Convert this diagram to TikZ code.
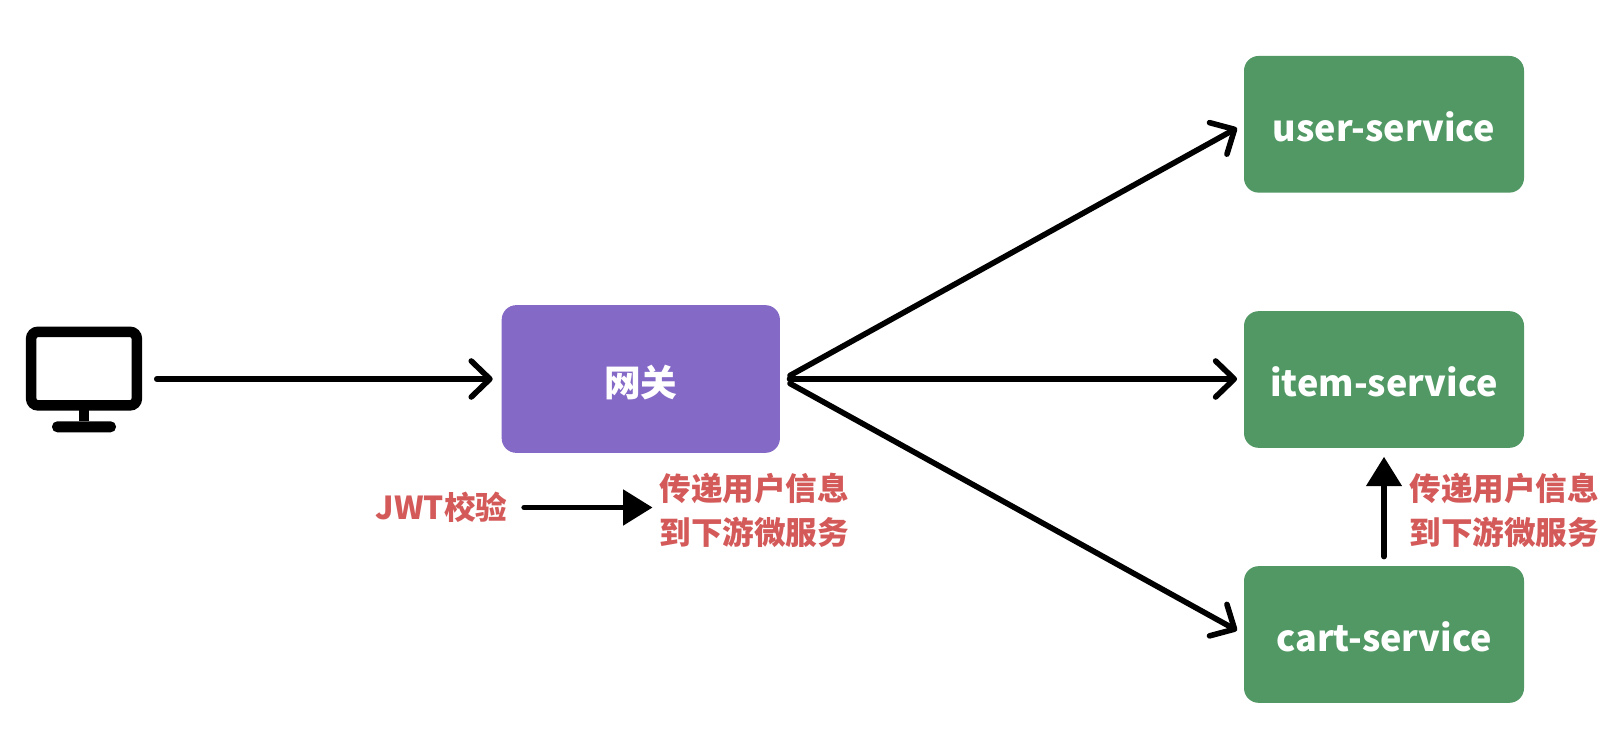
\documentclass[tikz,border=0pt]{standalone}
\usepackage{fontspec}
\setmainfont{Noto Sans CJK SC}
\usetikzlibrary{arrows.meta}
\definecolor{gwpurple}{RGB}{133,105,199}
\definecolor{svcgreen}{RGB}{81,152,100}
\definecolor{notered}{RGB}{212,90,90}
\tikzset{
  x=0.75pt,y=-0.75pt,
  boxbase/.style={rounded corners=11pt,text=white,inner sep=0pt,text height=26pt,text depth=0pt,font=\fontsize{27}{32}\selectfont\bfseries},
  svc/.style={boxbase,fill=svcgreen,minimum width=210pt,minimum height=102.5pt},
  gate/.style={boxbase,fill=gwpurple,minimum width=208.7pt,minimum height=110.8pt,font=\fontsize{27.5}{32}\selectfont\bfseries},
  note/.style={text=notered,inner sep=0pt,align=center,font=\fontsize{23.7}{33}\selectfont\bfseries},
  conn/.style={draw=black,line width=4.2pt,line cap=round,-{Straight Barb[length=14pt,width=27pt,round,line width=4.2pt]}},
  solidconn/.style={draw=black,line width=4.2pt,line cap=round,-{Triangle[length=22pt,width=26pt]}},
  screen/.style={draw=black,line width=7.9pt,rounded corners=5pt,minimum width=79.2pt,minimum height=55.1pt,inner sep=0pt,outer sep=0pt},
  standbase/.style={fill=black,rounded corners=4pt,minimum width=48pt,minimum height=8.3pt,inner sep=0pt,outer sep=0pt},
}
\lineskiplimit=-30pt\relax
\lineskip=0pt\relax
\begin{document}
\begin{tikzpicture}
\fill[white] (0,0) rectangle (1623,748);
\useasboundingbox (0,0) rectangle (1623,748);
\node[screen] (mon) at (84,368.6) {};
\node[standbase] (foot) at (84,426.8) {};
\draw[line width=7.7pt] (mon.south) -- (foot.north);
\node[gate] (gw) at (640.8,379) {网关};
\node[svc] (user) at (1384,124.3) {user-service};
\node[svc] (item) at (1384,379.5) {item-service};
\node[svc] (cart) at (1384,634.5) {cart-service};
\node[note] (jwt) at (441.5,507.5) {JWT校验};
\node[note] (info1) at (754.3,510.5) {传递用户信息\\到下游微服务};
\node[note] (info2) at (1504.3,510.5) {传递用户信息\\到下游微服务};
\coordinate (uout) at (790,375.5);
\coordinate (cout) at (790,383.5);
\coordinate (uin) at (1237,128);
\coordinate (cin) at (1237,630.5);
\draw[conn,shorten <=15pt,shorten >=6.5pt] (mon.east |- gw.west) -- (gw.west);
\draw[conn] (uout) -- (uin);
\draw[conn,shorten <=7pt,shorten >=5pt] (gw.east) -- (gw.east -| item.west);
\draw[conn] (cout) -- (cin);
\draw[solidconn,shorten <=12.5pt,shorten >=5pt] (jwt.east) -- (jwt.east -| info1.west);
\draw[solidconn,shorten <=7pt,shorten >=6.5pt] (cart.north) -- (item.south);
\end{tikzpicture}
\end{document}
